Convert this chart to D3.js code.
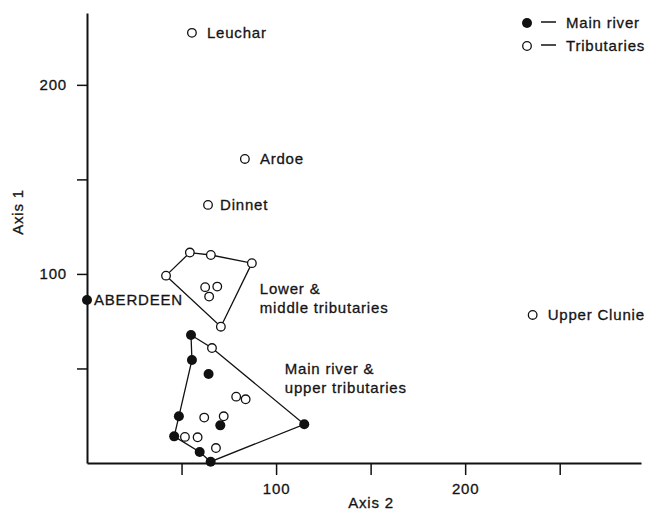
<!DOCTYPE html>
<html>
<head>
<meta charset="utf-8">
<script src="https://cdn.jsdelivr.net/npm/d3@7"></script>
<style>
  html, body { margin: 0; padding: 0; background: #fff; }
  svg { display: block; }
  text { font-family: "Liberation Sans", Arial, Helvetica, sans-serif; font-size: 15px; letter-spacing: 0.8px; fill: #141414; stroke: #141414; stroke-width: 0.3px; }
</style>
</head>
<body>
<svg id="chart" width="648" height="512"></svg>
<script>
// Ordination scores of sampling sites (Axis 2 horizontal, Axis 1 vertical)
const siteName = [
  "ABERDEEN", "Leuchar", "Ardoe", "Dinnet", "Upper Clunie",
  "", "", "", "", "", "", "", "",
  "", "", "", "", "", "", "", "", "",
  "", "", "", "", "", "", "", ""
];
const siteType = [
  "main", "trib", "trib", "trib", "trib",
  "trib", "trib", "trib", "trib", "trib", "trib", "trib", "trib",
  "main", "main", "main", "main", "main", "main", "main", "main", "main",
  "trib", "trib", "trib", "trib", "trib", "trib", "trib", "trib"
];
const siteAxis2 = [
  0, 55.5, 83.5, 64, 235.7,
  41.8, 54.4, 65.5, 87.2, 70.8, 62.5, 68.9, 64.6,
  55, 55.5, 64.3, 48.6, 46.1, 59.6, 65.4, 114.9, 70.5,
  66.1, 78.9, 83.9, 62, 72.3, 51.8, 58.5, 68.2
];
const siteAxis1 = [
  86.2, 227.5, 160.8, 136.5, 78.3,
  99.1, 111.3, 110, 105.7, 72.1, 93, 93.3, 88,
  67.7, 54.5, 47.1, 24.7, 14.1, 5.8, 0.7, 20.5, 19.9,
  60.8, 35.1, 33.7, 24, 24.7, 13.8, 13.6, 7.9
];

// Group outlines, as site indices in drawing order
const lowerOutline = [5, 6, 7, 8, 9];
const mainOutline = [13, 22, 20, 19, 18, 17, 16, 14];

// Group captions
const groupCaptions = [
  { lines: ["Lower &", "middle tributaries"], axis2: 91.4, axis1: 92 },
  { lines: ["Main river &", "upper tributaries"], axis2: 104.6, axis1: 49.7 }
];

// Axis ticks
const axis2Ticks = [50, 100, 150, 200, 250];
const axis1Ticks = [50, 100, 150, 200];
const labelledTicks = [100, 200];

const legendLabels = ["Main river", "Tributaries"];
const legendTypes = ["main", "trib"];

const svg = d3.select("#chart");

const x = d3.scaleLinear().domain([0, 293]).range([87, 641]);
const y = d3.scaleLinear().domain([0, 238]).range([463, 13]);

const tickFmt = d => labelledTicks.includes(d) ? String(d) : "";

// Axes
const gx = svg.append("g")
  .attr("transform", `translate(0,${y(0)})`)
  .call(d3.axisBottom(x).tickValues(axis2Ticks).tickFormat(tickFmt).tickSizeInner(12).tickSizeOuter(0).tickPadding(8));
const gy = svg.append("g")
  .attr("transform", `translate(${x(0)},0)`)
  .call(d3.axisLeft(y).tickValues(axis1Ticks).tickFormat(tickFmt).tickSizeInner(10).tickSizeOuter(0).tickPadding(10));

[gx, gy].forEach(g => {
  g.select(".domain").attr("stroke", "#111").attr("stroke-width", 2);
  g.selectAll(".tick line").attr("stroke", "#111").attr("stroke-width", 1.5);
  g.selectAll(".tick text")
    .attr("fill", "#141414")
    .style("font-family", "'Liberation Sans', Arial, sans-serif")
    .style("font-size", "15px")
    .style("letter-spacing", "0.8px")
    .style("stroke", "#141414")
    .style("stroke-width", "0.3px");
});

// Axis titles
svg.append("text")
  .attr("x", (x(0) + x(293)) / 2 + 7)
  .attr("y", 508)
  .attr("text-anchor", "middle")
  .text("Axis 2");
svg.append("text")
  .attr("transform", `translate(23,${(y(0) + y(238)) / 2 - 26}) rotate(-90)`)
  .attr("text-anchor", "middle")
  .text("Axis 1");

// Group outlines
const outlineLine = d3.line()
  .x(i => x(siteAxis2[i]))
  .y(i => y(siteAxis1[i]))
  .curve(d3.curveLinearClosed);

[lowerOutline, mainOutline].forEach(o => {
  svg.append("path")
    .attr("d", outlineLine(o))
    .attr("fill", "none")
    .attr("stroke", "#111")
    .attr("stroke-width", 1.3);
});

// Site markers
const idx = d3.range(siteName.length);
svg.append("g").selectAll("circle")
  .data(idx)
  .join("circle")
  .attr("cx", i => x(siteAxis2[i]))
  .attr("cy", i => y(siteAxis1[i]))
  .attr("r", i => siteType[i] === "main" ? 5 : 4.3)
  .attr("fill", i => siteType[i] === "main" ? "#111" : "#fff")
  .attr("stroke", "#111")
  .attr("stroke-width", i => siteType[i] === "main" ? 0 : 1.3);

// Site names
const nameOffset = { "ABERDEEN": 7, "Dinnet": 12 };
svg.append("g").selectAll("text")
  .data(idx.filter(i => siteName[i]))
  .join("text")
  .attr("x", i => x(siteAxis2[i]) + (nameOffset[siteName[i]] ?? 15))
  .attr("y", i => y(siteAxis1[i]))
  .attr("dy", "0.36em")
  .text(i => siteName[i]);

// Group captions
groupCaptions.forEach(c => {
  const t = svg.append("text")
    .attr("x", x(c.axis2))
    .attr("y", y(c.axis1));
  c.lines.forEach((ln, k) => {
    t.append("tspan")
      .attr("x", x(c.axis2))
      .attr("dy", k === 0 ? "0.36em" : "19px")
      .text(ln);
  });
});

// Legend
const legend = svg.append("g").attr("transform", "translate(527,23)");
legendLabels.forEach((lab, k) => {
  const row = legend.append("g").attr("transform", `translate(0,${k * 23})`);
  row.append("circle")
    .attr("r", legendTypes[k] === "main" ? 5 : 4.3)
    .attr("fill", legendTypes[k] === "main" ? "#111" : "#fff")
    .attr("stroke", "#111")
    .attr("stroke-width", legendTypes[k] === "main" ? 0 : 1.3);
  row.append("line")
    .attr("x1", 14).attr("x2", 29)
    .attr("y1", -1).attr("y2", -1)
    .attr("stroke", "#111").attr("stroke-width", 1.5);
  row.append("text")
    .attr("x", 39)
    .attr("dy", "0.36em")
    .text(lab);
});
</script>
</body>
</html>
